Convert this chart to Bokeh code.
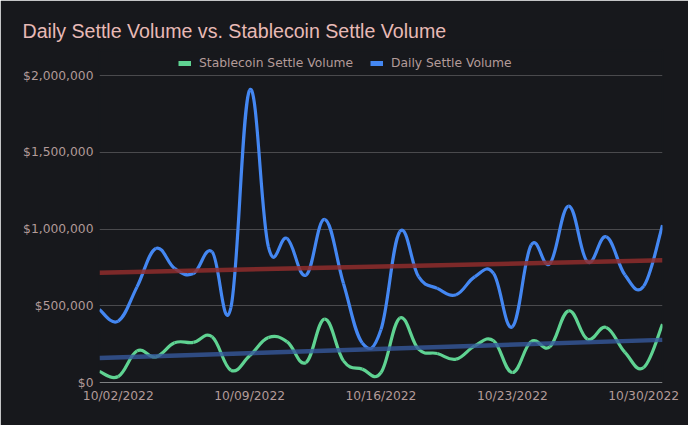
import numpy as np
import pandas as pd
from bokeh.plotting import figure
from bokeh.models import (Range1d, FixedTicker, DatetimeTickFormatter, NumeralTickFormatter,
                          Span, Legend, LegendItem)
from bokeh.embed import file_html
from bokeh.resources import INLINE

# ---------------- data ----------------
dates = pd.date_range("2022-10-01", "2022-10-31", freq="D")
daily_volume = [475000, 400000, 623000, 873000, 743000, 710000, 851000, 487000, 1905000, 884000,
                938000, 699000, 1062000, 645000, 258000, 345000, 982000, 689000, 613000, 572000,
                689000, 710000, 363000, 895000, 775000, 1149000, 786000, 949000, 700000, 628000,
                1025000]
stable_volume = [72000, 39000, 206000, 167000, 259000, 261000, 298000, 80000, 174000, 293000,
                 265000, 130000, 413000, 141000, 87000, 65000, 419000, 217000, 189000, 152000,
                 239000, 272000, 65000, 267000, 233000, 467000, 282000, 359000, 196000, 98000,
                 380000]
tick_dates = ["2022-10-02", "2022-10-09", "2022-10-16", "2022-10-23", "2022-10-30"]
y_ticks = [0, 500000, 1000000, 1500000, 2000000]
title_text = "Daily Settle Volume vs. Stablecoin Settle Volume"

# ---------------- layout / styles ----------------
W, H = 688, 425
FRAME_TOP = 50      # frame extends above the top gridline so the legend can sit inside it
TOP_TICK_Y = 75     # pixel row of the top gridline
ZERO_Y = 382        # pixel row of the zero line
BG = "#17181c"
TXT = "#b39b99"
TITLE = "#e8bab6"
GREEN = "#5fd392"
BLUE = "#4487f2"
FONT = "DejaVu Sans"

xs = np.array([d.timestamp() * 1000 for d in dates])
y_top = y_ticks[-1] * (ZERO_Y - FRAME_TOP) / (ZERO_Y - TOP_TICK_Y)


def bezier_segments(x, y, k=0.2):
    x = np.asarray(x, float)
    y = np.asarray(y, float)
    xp = np.r_[x[0], x, x[-1]]
    yp = np.r_[y[0], y, y[-1]]
    n = len(x)
    i = np.arange(n - 1)
    cx0 = x[i] + k * (xp[i + 2] - xp[i])
    cy0 = y[i] + k * (yp[i + 2] - yp[i])
    cx1 = x[i + 1] - k * (xp[i + 3] - xp[i + 1])
    cy1 = y[i + 1] - k * (yp[i + 3] - yp[i + 1])
    return dict(x0=x[:-1], y0=y[:-1], x1=x[1:], y1=y[1:], cx0=cx0, cy0=cy0, cx1=cx1, cy1=cy1)


p = figure(width=W, height=H, output_backend="svg", toolbar_location=None,
           x_axis_type="datetime", title=title_text,
           x_range=Range1d(xs[0], xs[-1]), y_range=Range1d(0, y_top),
           min_border_left=99, min_border_right=26, min_border_top=FRAME_TOP,
           min_border_bottom=H - ZERO_Y,
           background_fill_color=BG, border_fill_color=BG,
           outline_line_color=BG, outline_line_width=1.5)

p.title.text_color = TITLE
p.title.text_font = "Liberation Sans"
p.title.text_font_size = "19.6px"
p.title.text_font_style = "normal"
p.title.align = "left"
p.title.offset = -77
p.title.standoff = 18

p.xgrid.grid_line_color = None
p.ygrid.grid_line_color = "#4a4a4d"
p.ygrid.grid_line_width = 1
p.yaxis.ticker = FixedTicker(ticks=y_ticks)
p.yaxis.formatter = NumeralTickFormatter(format="$0,0")
p.xaxis.ticker = FixedTicker(ticks=[pd.Timestamp(t).timestamp() * 1000 for t in tick_dates])
p.xaxis.formatter = DatetimeTickFormatter(days="%m/%d/%Y", months="%m/%d/%Y", hours="%m/%d/%Y")

for ax in (p.xaxis, p.yaxis):
    ax.axis_line_color = None
    ax.major_tick_line_color = None
    ax.minor_tick_line_color = None
    ax.major_tick_out = 0
    ax.major_tick_in = 0
    ax.major_label_text_color = TXT
    ax.major_label_text_font = FONT
    ax.major_label_text_font_size = "12.3px"
p.xaxis.major_label_standoff = 6
p.yaxis.major_label_standoff = 6

p.add_layout(Span(location=0, dimension="width", line_color="#e6e6e6", line_width=1))

gb = bezier_segments(xs, stable_volume)
p.bezier(source=gb, x0="x0", y0="y0", x1="x1", y1="y1", cx0="cx0", cy0="cy0", cx1="cx1", cy1="cy1",
         line_color=GREEN, line_width=3.2)
bb = bezier_segments(xs, daily_volume)
p.bezier(source=bb, x0="x0", y0="y0", x1="x1", y1="y1", cx0="cx0", cy0="cy0", cx1="cx1", cy1="cy1",
         line_color=BLUE, line_width=3.2)

day_idx = np.arange(len(xs))
for series, col, alpha in ((daily_volume, "#8f2d2b", 0.85), (stable_volume, "#36599c", 0.8)):
    slope, icpt = np.polyfit(day_idx, series, 1)
    p.line([xs[0], xs[-1]], [icpt, icpt + slope * day_idx[-1]], line_color=col,
           line_width=4.5, line_alpha=alpha)

# legend swatches (renderers with a single undefined point draw nothing in the plot)
lg = p.line([xs[0]], [np.nan], line_color=GREEN, line_width=5)
lb = p.line([xs[0]], [np.nan], line_color=BLUE, line_width=5)
legend = Legend(items=[LegendItem(label="Stablecoin Settle Volume", renderers=[lg]),
                       LegendItem(label="Daily Settle Volume", renderers=[lb])],
                orientation="horizontal", location=(79, ZERO_Y - 56 - 14),
                background_fill_alpha=0, border_line_color=None,
                padding=0, margin=0, spacing=17, label_standoff=8,
                glyph_width=13, glyph_height=14, label_height=14,
                label_text_color=TXT, label_text_font=FONT, label_text_font_size="12.3px")
p.add_layout(legend, "center")

open("out.html", "w").write(file_html(p, INLINE))
